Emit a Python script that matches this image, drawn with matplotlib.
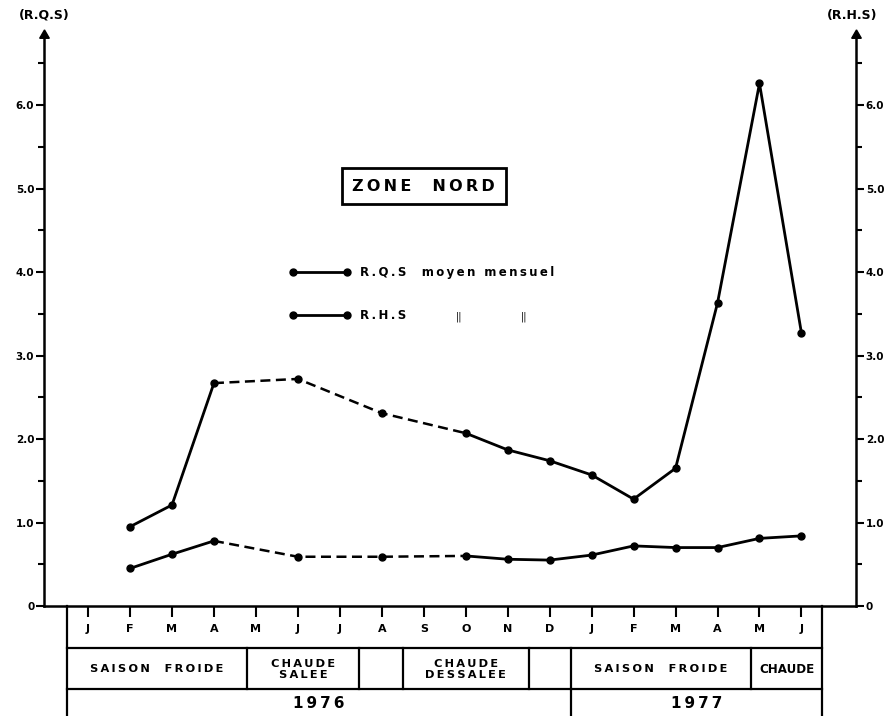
import matplotlib
matplotlib.use("Agg")
import matplotlib.pyplot as plt

# month positions (0 = Jan 1976) and labels
months = ["J", "F", "M", "A", "M", "J", "J", "A", "S", "O", "N", "D",
          "J", "F", "M", "A", "M", "J"]
obs_idx = [1, 2, 3, 5, 7, 9, 10, 11, 12, 13, 14, 15, 16, 17]
rqs = [0.95, 1.21, 2.67, 2.72, 2.31, 2.07, 1.87, 1.74, 1.57, 1.28, 1.65, 3.63, 6.26, 3.27]
rhs = [0.45, 0.62, 0.78, 0.59, 0.59, 0.60, 0.56, 0.55, 0.61, 0.72, 0.70, 0.70, 0.81, 0.84]
# points joined by a dashed line (gap in the sampling: Apr -> Oct 1976)
dashed_from, dashed_to = 2, 5

seasons = ["SAISON  FROIDE", "CHAUDE\nSALEE", "", "CHAUDE\nDESSALEE", "", "SAISON  FROIDE", "CHAUDE"]
season_edges = [-0.5, 3.79, 6.45, 7.5, 10.5, 11.5, 15.79, 17.5]
years = ["1976", "1977"]
year_edges = [-0.5, 11.5, 17.5]


def spaced(s):
    # letter spacing with thin spaces, line by line
    return "\n".join("\u2009".join(line) for line in s.split("\n"))


plt.rcParams['font.family'] = 'DejaVu Sans'
plt.rcParams['font.weight'] = 'bold'

fig = plt.figure(figsize=(8.84, 7.16), dpi=100)
ax = fig.add_axes([44/884, 1 - 606/716, (856 - 44)/884, (606 - 35)/716])
ax.set_xlim(-1.05, 18.3)
ax.set_ylim(0, 6.84)

lw = 2.0
for vals in [rqs, rhs]:
    x1, y1 = obs_idx[:dashed_from + 1], vals[:dashed_from + 1]
    x2, y2 = obs_idx[dashed_from:dashed_to + 1], vals[dashed_from:dashed_to + 1]
    x3, y3 = obs_idx[dashed_to:], vals[dashed_to:]
    ax.plot(x1, y1, '-', color='black', lw=lw)
    ax.plot(x2, y2, color='black', lw=1.8, linestyle=(0, (4, 2.2)))
    ax.plot(x3, y3, '-', color='black', lw=lw)
    ax.plot(obs_idx, vals, 'o', color='black', ms=5)

# axes styling
ax.spines['top'].set_visible(False)
for s in ['left', 'right', 'bottom']:
    ax.spines[s].set_linewidth(1.8)

major = [0, 1, 2, 3, 4, 5, 6]
minor = [0.5, 1.5, 2.5, 3.5, 4.5, 5.5, 6.5]
major_lbl = ["0", "1.0", "2.0", "3.0", "4.0", "5.0", "6.0"]
ax.set_yticks(major)
ax.set_yticklabels(major_lbl)
ax.set_yticks(minor, minor=True)
ax.tick_params(axis='y', which='major', length=6, width=1.5, pad=1, labelsize=7.5,
               left=True, right=True, labelleft=True, labelright=True, direction='out')
ax.tick_params(axis='y', which='minor', length=4, width=1.5, left=True, right=True, direction='out')
for t in ax.get_yticklabels():
    t.set_fontweight('bold')

ax.set_xticks(range(len(months)))
ax.set_xticklabels([])
ax.tick_params(axis='x', which='major', length=8, width=1.5, direction='out')

# arrows on the vertical axes
for xa in [0, 1]:
    ax.plot(xa, 1, marker=(3, 0, 0), color='black', ms=8, transform=ax.transAxes, clip_on=False)

ax.text(0, 1.035, "(R.Q.S)", transform=ax.transAxes, ha='center', va='center',
        fontsize=9, fontweight='bold')
ax.text(0.995, 1.035, "(R.H.S)", transform=ax.transAxes, ha='center', va='center',
        fontsize=9, fontweight='bold')

# title box
ax.text(8.0, 5.03, spaced("ZONE  NORD"), ha='center', va='center', fontsize=11.5,
        fontweight='bold',
        bbox=dict(boxstyle='square,pad=0.65', fc='white', ec='black', lw=2))

# legend
for yl, lab in [(4.0, "R.Q.S  moyen mensuel"), (3.485, "R.H.S")]:
    ax.plot([4.88, 6.17], [yl, yl], '-o', color='black', lw=2, ms=5)
    ax.text(6.48, yl, spaced(lab), ha='left', va='center', fontsize=8.5, fontweight='bold')
ax.text(8.85, 3.47, "||", ha='center', va='center', fontsize=7, fontweight='normal')
ax.text(10.4, 3.47, "||", ha='center', va='center', fontsize=7, fontweight='normal')

# bottom table
kw = dict(color='black', lw=1.6, clip_on=False)
ax.plot([-0.5, -0.5], [0, -1.5], **kw)
ax.plot([17.5, 17.5], [0, -1.5], **kw)
ax.plot([-0.5, 17.5], [-0.5, -0.5], **kw)
ax.plot([-0.5, 17.5], [-1.0, -1.0], **kw)
for e in season_edges[1:-1]:
    ax.plot([e, e], [-0.5, -1.0], **kw)
for e in year_edges[1:-1]:
    ax.plot([e, e], [-1.0, -1.5], **kw)

for i, m in enumerate(months):
    ax.text(i, -0.27, m, ha='center', va='center', fontsize=8, fontweight='bold', clip_on=False)
for k, s in enumerate(seasons):
    cx = (season_edges[k] + season_edges[k + 1]) / 2
    fs = 8.6 if s == "CHAUDE" else 8.2
    ax.text(cx, -0.76, spaced(s) if s != "CHAUDE" else s, ha='center', va='center',
            fontsize=fs, fontweight='bold', linespacing=1.05, clip_on=False)
for k, yr in enumerate(years):
    cx = (year_edges[k] + year_edges[k + 1]) / 2
    ax.text(cx, -1.17, spaced(yr), ha='center', va='center', fontsize=11, fontweight='bold',
            clip_on=False)

fig.savefig("out.png", dpi=100)
